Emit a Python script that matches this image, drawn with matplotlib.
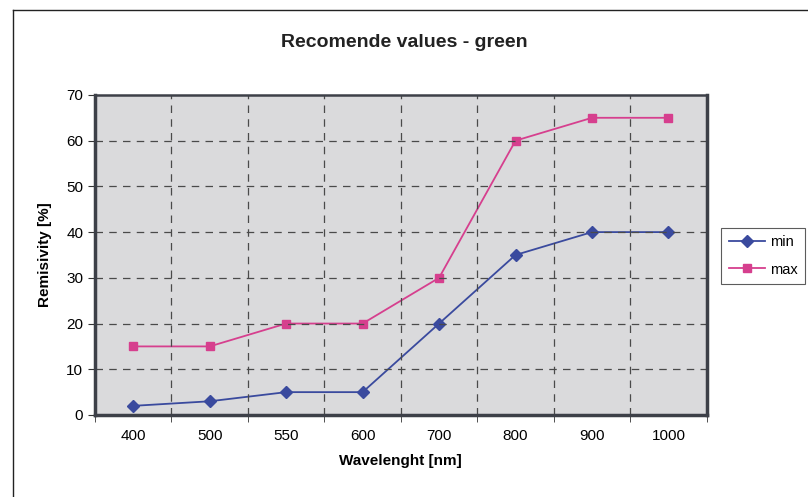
import matplotlib
matplotlib.use("Agg")
import matplotlib.pyplot as plt
from matplotlib.lines import Line2D
import numpy as np

wavelengths = ["400", "500", "550", "600", "700", "800", "900", "1000"]
min_vals = [2, 3, 5, 5, 20, 35, 40, 40]
max_vals = [15, 15, 20, 20, 30, 60, 65, 65]
y_ticks = [0, 10, 20, 30, 40, 50, 60, 70]

plt.rcParams["font.family"] = ["Liberation Sans", "DejaVu Sans"]

fig = plt.figure(figsize=(8.08, 4.97), dpi=100)
fig.patch.set_facecolor("white")
ax = fig.add_axes([0.1176, 0.165, 0.757, 0.644])
ax.set_facecolor("#dadadc")

xs = np.arange(len(wavelengths))
ax.plot(xs, min_vals, "-D", color="#3a4a9e", markersize=6, lw=1.3, label="min")
ax.plot(xs, max_vals, "-s", color="#d63f8e", markersize=6, lw=1.3, label="max")

ax.set_xlim(-0.5, len(wavelengths) - 0.5)
ax.set_ylim(0, 70)
ax.set_yticks(y_ticks)
ax.set_xticks(xs)
ax.set_xticklabels(wavelengths, fontsize=11)
ax.tick_params(axis="x", length=0, pad=10)
ax.set_xticks(np.arange(-0.5, len(wavelengths)), minor=True)
ax.tick_params(axis="x", which="minor", length=5, direction="out", color="#333333")
ax.tick_params(axis="y", labelsize=11, length=5, color="#333333")

for v in y_ticks[1:-1]:
    ax.axhline(v, color="#4a4a4a", lw=0.9, ls=(0, (6, 5)))
for b in np.arange(0.5, len(wavelengths) - 0.5):
    ax.axvline(b, color="#4a4a4a", lw=0.9, ls=(0, (6, 5)))

for s in ax.spines.values():
    s.set_color("#3d4048")
    s.set_linewidth(2.5)
ax.spines["top"].set_linewidth(1.8)

ax.set_xlabel("Wavelenght [nm]", fontsize=11, fontweight="bold", labelpad=8)
ax.set_ylabel("Remisivity [%]", fontsize=11, fontweight="bold", labelpad=10)
fig.text(0.5, 0.915, "Recomende values - green", ha="center", va="center",
         fontsize=14, fontweight="bold", color="#222222")

leg = fig.legend(loc="center left", bbox_to_anchor=(0.889, 0.485), fontsize=10.5,
                 frameon=True, fancybox=False, edgecolor="#333333",
                 handlelength=2.5, borderpad=0.5, borderaxespad=0.2,
                 labelspacing=0.9, handletextpad=0.35)
leg.get_frame().set_linewidth(0.8)

# outer chart frame
fig.add_artist(Line2D([0.016, 0.016], [0.0, 0.98], color="#222222", lw=1.0))
fig.add_artist(Line2D([0.016, 1.0], [0.98, 0.98], color="#222222", lw=1.0))

fig.savefig("out.png", dpi=100)
